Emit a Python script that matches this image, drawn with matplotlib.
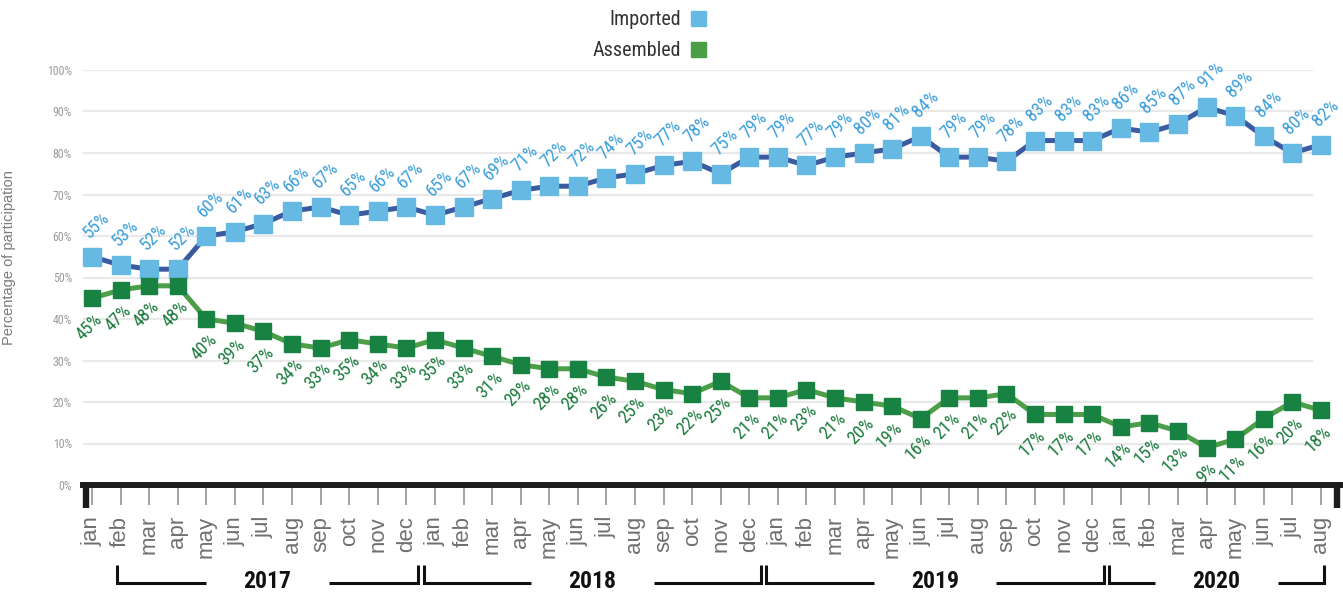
import matplotlib
matplotlib.use("Agg")
import matplotlib.pyplot as plt
from matplotlib import font_manager, transforms
from matplotlib.lines import Line2D

# ---------------- data ----------------
month_labels = (["jan", "feb", "mar", "apr", "may", "jun", "jul", "aug", "sep", "oct", "nov", "dec"] * 3
                + ["jan", "feb", "mar", "apr", "may", "jun", "jul", "aug"])
years = [2017, 2018, 2019, 2020]
imported = [55, 53, 52, 52, 60, 61, 63, 66, 67, 65, 66, 67,
            65, 67, 69, 71, 72, 72, 74, 75, 77, 78, 75, 79,
            79, 77, 79, 80, 81, 84, 79, 79, 78, 83, 83, 83,
            86, 85, 87, 91, 89, 84, 80, 82]
assembled = [45, 47, 48, 48, 40, 39, 37, 34, 33, 35, 34, 33,
             35, 33, 31, 29, 28, 28, 26, 25, 23, 22, 25, 21,
             21, 23, 21, 20, 19, 16, 21, 21, 22, 17, 17, 17,
             14, 15, 13, 9, 11, 16, 20, 18]
y_ticks = [0, 10, 20, 30, 40, 50, 60, 70, 80, 90, 100]
series_names = ["Imported", "Assembled"]

# ---------------- fonts ----------------
available = {f.name for f in font_manager.fontManager.ttflist}


def pick(*names):
    for n in names:
        if n in available:
            return n
    return "DejaVu Sans"


NARROW = pick("Liberation Sans Narrow", "Roboto Condensed", "Liberation Sans")
SANS = pick("Liberation Sans", "Arial", "DejaVu Sans")

# ---------------- colours ----------------
IMP_LINE = "#3a5b9f"
IMP_MARK = "#66b9e2"
IMP_TEXT = "#3c9fdb"
ASM_LINE = "#4c9f48"
ASM_MARK = "#178242"
ASM_TEXT = "#1b7b3d"
LEG_ASM = "#4a9e46"

W, H = 1343, 595
fig = plt.figure(figsize=(W / 100, H / 100), dpi=100)
ax = fig.add_axes([83 / W, 1 - 485 / H, (1340 - 83) / W, (485 - 70) / H])

x = list(range(len(month_labels)))
ax.set_xlim(-0.315, len(x) - 1 + 0.67)
ax.set_ylim(y_ticks[0], y_ticks[-1])

# gridlines
for v in y_ticks[1:]:
    ax.axhline(v, xmin=0, xmax=0.978, color="#e9e9e9", lw=1.6, zorder=0)

# series
ax.plot(x, imported, color=IMP_LINE, lw=3.6, marker="s", ms=12.4,
        mfc=IMP_MARK, mec=IMP_MARK, zorder=3, clip_on=False)
ax.plot(x, assembled, color=ASM_LINE, lw=3.6, marker="s", ms=12.0,
        mfc=ASM_MARK, mec=ASM_MARK, zorder=3, clip_on=False)

for xi, v in zip(x, imported):
    ax.annotate(f"{v}%", (xi, v), xytext=(0.5, 11), textcoords="offset points",
                rotation=45, rotation_mode="anchor", ha="left", va="bottom",
                fontsize=13, color=IMP_TEXT, family=NARROW, zorder=4)
for xi, v in zip(x, assembled):
    ax.annotate(f"{v}%", (xi, v), xytext=(1.0, -8.6), textcoords="offset points",
                rotation=45, rotation_mode="anchor", ha="right", va="top",
                fontsize=13, color=ASM_TEXT, family=NARROW, zorder=4)

# axes styling
for s in ["top", "right", "left"]:
    ax.spines[s].set_visible(False)
ax.spines["bottom"].set_linewidth(4.3)
ax.spines["bottom"].set_color("#1c1c1c")
ax.spines["bottom"].set_zorder(5)

ax.set_yticks(y_ticks, [f"{v}%" for v in y_ticks])
ax.tick_params(axis="y", length=0, pad=8, labelsize=8.6, labelcolor="#9a9a9a")
for lbl in ax.get_yticklabels():
    lbl.set_family(NARROW)

ax.set_xticks(x, month_labels)
ax.tick_params(axis="x", length=14.4, width=1.1, color="#8a8a8a", pad=8,
               labelsize=16, labelcolor="#707070", labelrotation=90)
for lbl in ax.get_xticklabels():
    lbl.set_family(SANS)
    lbl.set_va("top")

# end caps of the thick axis bar
for cx in [(86 - 83) / 1257, (1336.5 - 83) / 1257]:
    ax.plot([cx, cx], [(485 - 482) / 415, (485 - 508) / 415], transform=ax.transAxes,
            color="#1c1c1c", lw=4.6, solid_capstyle="butt", clip_on=False, zorder=5)

ax.set_ylabel("Percentage of participation", fontsize=10.5, color="#7a7a7a", family=SANS)
ax.yaxis.set_label_coords((16 - 83) / 1257, (485 - 258) / 415)

# year brackets
trans = transforms.blended_transform_factory(ax.transData, fig.transFigure)
starts = [i for i, m in enumerate(month_labels) if m == "jan"]
ends = starts[1:] + [len(month_labels)]
ends = [e - 1 for e in ends]
y_line = 1 - 583 / H
y_top = 1 - 565 / H
gap = 2.15
for k, (yr, a, b) in enumerate(zip(years, starts, ends)):
    left = a - 0.4 if a > 0 else a + 0.87
    right = b + 0.4 if k < len(years) - 1 else b + 0.1
    c = (left + right) / 2
    kw = dict(transform=trans, color="#111111", lw=2.2, clip_on=False,
              solid_joinstyle="miter", solid_capstyle="butt")
    ax.plot([left, left, c - gap], [y_top, y_line, y_line], **kw)
    ax.plot([c + gap, right, right], [y_line, y_line, y_top], **kw)
    ax.text(c, 1 - 581 / H, str(yr), transform=trans, ha="center", va="center",
            fontsize=17, fontweight="bold", family=NARROW, color="#111111")

# legend
handles = [Line2D([], [], ls="none", marker="s", ms=10.8, mfc=IMP_MARK, mec=IMP_MARK),
           Line2D([], [], ls="none", marker="s", ms=10.8, mfc=LEG_ASM, mec=LEG_ASM)]
leg = fig.legend(handles, series_names, loc="upper right",
                 bbox_to_anchor=(706 / W, 1 - 10 / H), bbox_transform=fig.transFigure,
                 markerfirst=False, frameon=False, handlelength=0.75, handletextpad=0.5,
                 labelspacing=0.62, borderpad=0, borderaxespad=0,
                 prop={"family": NARROW, "size": 14.5})
for t in leg.get_texts():
    t.set_color("#333333")

fig.savefig("out.png", dpi=100)
